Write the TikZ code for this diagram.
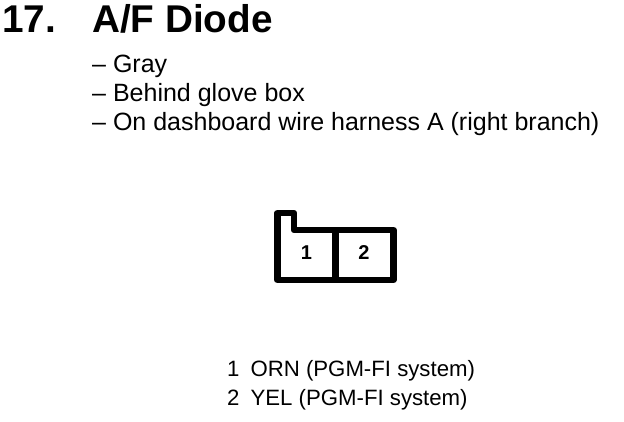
\documentclass[tikz,border=0pt]{standalone}
\usepackage{fontspec}
\setmainfont{Liberation Sans}
\tikzset{
  px/.style={x=1pt,y=-1pt},
  lbl/.style={anchor=base west,inner sep=0pt,font=\fontsize{25}{26}\selectfont},
  wire/.style={anchor=base west,inner sep=0pt,font=\fontsize{22.2}{24}\selectfont},
  ttl/.style={anchor=base west,inner sep=0pt,font=\bfseries\fontsize{38.7}{40}\selectfont},
  pin/.style={inner sep=0pt,font=\bfseries\fontsize{20}{22}\selectfont},
  wall/.style={line width=6.5pt,line join=round}
}
\begin{document}
\begin{tikzpicture}[px]
\useasboundingbox (0,0) rectangle (624,422);
\node[ttl] (num) at (2,33) {17.};
\node[ttl] (title) at (92,33) {A/F Diode};
\node[lbl] (a) at (92,73) {– Gray};
\node[lbl] (b) at (92,102) {– Behind glove box};
\node[lbl] (c) at (92,131) {– On dashboard wire harness A (right branch)};
\draw[wall] (277.5,280) -- (277.5,213) -- (294,213) -- (294,230) -- (393.5,230) -- (393.5,280) -- cycle;
\draw[wall] (335.5,230) -- (335.5,280);
\node[pin] (p1) at (306.5,253) {1};
\node[pin] (p2) at (364,253) {2};
\node[wire] (w1) at (227,376) {1\hspace{11pt}ORN (PGM-FI system)};
\node[wire] (w2) at (227,405.5) {2\hspace{11pt}YEL (PGM-FI system)};
\end{tikzpicture}
\end{document}
